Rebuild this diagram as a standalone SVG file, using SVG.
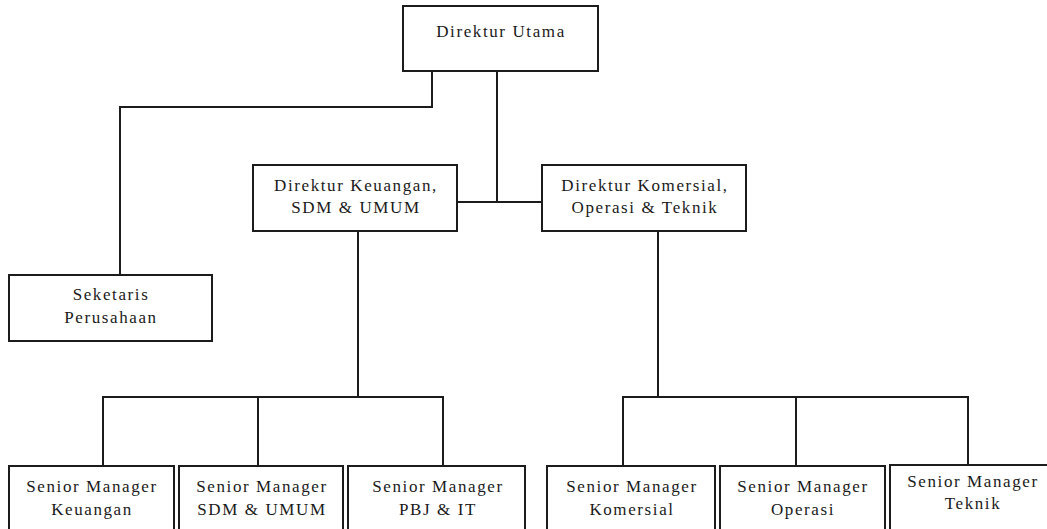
<svg xmlns="http://www.w3.org/2000/svg" width="1047" height="529" viewBox="0 0 1047 529">
  <style>
    .box { fill: #ffffff; stroke: #1c1c1c; stroke-width: 2; }
    .conn { fill: none; stroke: #1c1c1c; stroke-width: 2; }
    .t { font-family: "Times New Roman", "Liberation Serif", "DejaVu Serif", serif; font-size: 17px; fill: #1a1a1a; text-anchor: middle; letter-spacing: 1.6px; }
  </style>
  <rect width="1047" height="529" fill="#ffffff"/>
  <g id="connectors">
    <polyline class="conn" points="432,71 432,107 120,107 120,275"/>
    <line class="conn" x1="497" y1="71" x2="497" y2="202"/>
    <line class="conn" x1="457" y1="202" x2="542" y2="202"/>
    <line class="conn" x1="358" y1="231" x2="358" y2="397"/>
    <line class="conn" x1="102" y1="397" x2="444" y2="397"/>
    <line class="conn" x1="103" y1="397" x2="103" y2="466"/>
    <line class="conn" x1="258" y1="397" x2="258" y2="466"/>
    <line class="conn" x1="443" y1="397" x2="443" y2="466"/>
    <line class="conn" x1="658" y1="231" x2="658" y2="397"/>
    <line class="conn" x1="622" y1="397" x2="969" y2="397"/>
    <line class="conn" x1="623" y1="397" x2="623" y2="466"/>
    <line class="conn" x1="796" y1="397" x2="796" y2="466"/>
    <line class="conn" x1="968" y1="397" x2="968" y2="465"/>
  </g>
  <g id="direktur-utama">
    <rect class="box" x="403" y="6" width="195" height="65"/>
    <text class="t" x="501" y="37">Direktur Utama</text>
  </g>
  <g id="direktur-keuangan">
    <rect class="box" x="253" y="165" width="204" height="66"/>
    <text class="t" x="356" y="191">Direktur Keuangan,</text>
    <text class="t" x="356" y="213">SDM &amp; UMUM</text>
  </g>
  <g id="direktur-komersial">
    <rect class="box" x="542" y="165" width="204" height="66"/>
    <text class="t" x="645" y="191">Direktur Komersial,</text>
    <text class="t" x="645" y="213">Operasi &amp; Teknik</text>
  </g>
  <g id="seketaris">
    <rect class="box" x="9" y="275" width="203" height="66"/>
    <text class="t" x="111" y="300">Seketaris</text>
    <text class="t" x="111" y="323">Perusahaan</text>
  </g>
  <g id="sm-keuangan">
    <rect class="box" x="9" y="466" width="165" height="75"/>
    <text class="t" x="92" y="492">Senior Manager</text>
    <text class="t" x="92" y="515">Keuangan</text>
  </g>
  <g id="sm-sdm">
    <rect class="box" x="179" y="466" width="164" height="75"/>
    <text class="t" x="262" y="492">Senior Manager</text>
    <text class="t" x="262" y="515">SDM &amp; UMUM</text>
  </g>
  <g id="sm-pbj">
    <rect class="box" x="348" y="466" width="177" height="75"/>
    <text class="t" x="438" y="492">Senior Manager</text>
    <text class="t" x="438" y="515">PBJ &amp; IT</text>
  </g>
  <g id="sm-komersial">
    <rect class="box" x="547" y="466" width="168" height="75"/>
    <text class="t" x="632" y="492">Senior Manager</text>
    <text class="t" x="632" y="515">Komersial</text>
  </g>
  <g id="sm-operasi">
    <rect class="box" x="720" y="466" width="165" height="75"/>
    <text class="t" x="803" y="492">Senior Manager</text>
    <text class="t" x="803" y="515">Operasi</text>
  </g>
  <g id="sm-teknik">
    <rect class="box" x="890" y="465" width="166" height="76"/>
    <text class="t" x="973" y="487">Senior Manager</text>
    <text class="t" x="973" y="509">Teknik</text>
  </g>
</svg>
